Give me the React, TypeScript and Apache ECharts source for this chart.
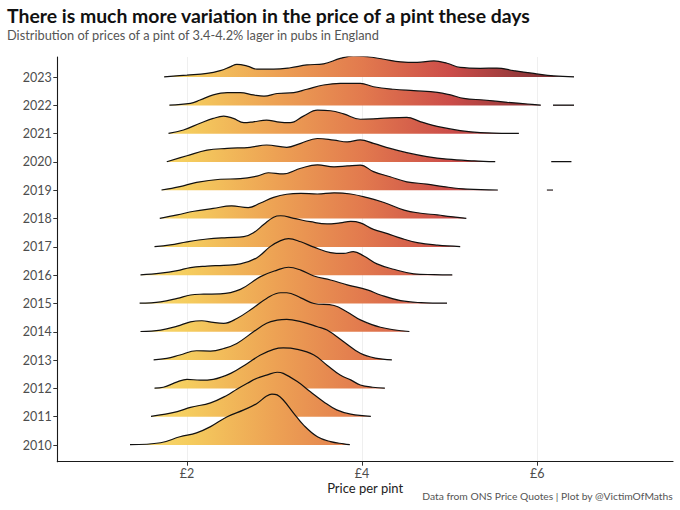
import React, { useEffect, useRef } from "react";
import * as echarts from "echarts";

const years = ["2010","2011","2012","2013","2014","2015","2016","2017","2018","2019","2020","2021","2022","2023"];
const xTicks = [2, 4, 6];

// [price £, ridge height in row units]
const r2010 = [[1.35,0.01],[1.70,0.08],[1.92,0.29],[2.11,0.43],[2.27,0.65],[2.46,1.0],[2.65,1.24],[2.80,1.47],[2.91,1.73],[2.97,1.80],[3.03,1.77],[3.10,1.59],[3.22,1.12],[3.33,0.71],[3.49,0.29],[3.64,0.12],[3.79,0.04],[3.86,0.01]];
const r2011 = [[1.59,0.01],[1.89,0.18],[2.04,0.33],[2.27,0.49],[2.46,0.76],[2.57,0.97],[2.69,1.18],[2.80,1.36],[2.91,1.47],[3.03,1.57],[3.10,1.53],[3.26,1.24],[3.41,0.88],[3.56,0.53],[3.71,0.24],[3.87,0.09],[4.10,0.01]];
const r2012 = [[1.63,0.01],[1.73,0.04],[1.89,0.23],[2.0,0.32],[2.15,0.29],[2.30,0.32],[2.50,0.53],[2.69,0.88],[2.84,1.18],[2.99,1.38],[3.10,1.43],[3.26,1.38],[3.45,1.18],[3.60,0.82],[3.75,0.47],[3.87,0.30],[3.98,0.12],[4.12,0.04],[4.26,0.01]];
const r2013 = [[1.62,0.01],[1.77,0.06],[1.92,0.18],[2.11,0.33],[2.27,0.32],[2.42,0.41],[2.57,0.59],[2.76,1.0],[2.91,1.30],[3.03,1.41],[3.14,1.44],[3.30,1.36],[3.49,1.18],[3.60,1.06],[3.79,0.65],[3.98,0.24],[4.15,0.07],[4.34,0.01]];
const r2014 = [[1.47,0.01],[1.70,0.06],[1.89,0.20],[2.04,0.35],[2.17,0.39],[2.30,0.33],[2.42,0.30],[2.57,0.47],[2.76,0.85],[2.91,1.18],[3.07,1.38],[3.14,1.38],[3.30,1.20],[3.45,1.0],[3.68,0.93],[3.83,0.70],[3.98,0.42],[4.21,0.16],[4.54,0.01]];
const r2015 = [[1.46,0.01],[1.70,0.06],[1.89,0.18],[2.04,0.30],[2.19,0.33],[2.38,0.34],[2.61,0.50],[2.84,0.95],[3.03,1.18],[3.16,1.28],[3.30,1.18],[3.45,0.97],[3.64,0.83],[3.83,0.66],[4.06,0.48],[4.21,0.30],[4.44,0.10],[4.67,0.03],[4.97,0.01]];
const r2016 = [[1.47,0.01],[1.70,0.07],[1.89,0.16],[2.04,0.27],[2.23,0.32],[2.42,0.35],[2.61,0.40],[2.80,0.62],[2.95,1.01],[3.07,1.22],[3.16,1.29],[3.30,1.18],[3.45,0.99],[3.64,0.80],[3.79,0.77],[3.90,0.83],[4.02,0.68],[4.17,0.40],[4.36,0.21],[4.59,0.05],[4.82,0.02],[5.03,0.01]];
const r2017 = [[1.63,0.01],[1.81,0.07],[2.0,0.18],[2.23,0.28],[2.46,0.33],[2.65,0.36],[2.76,0.50],[2.88,0.80],[2.99,1.05],[3.07,1.10],[3.22,1.01],[3.41,0.89],[3.60,0.81],[3.75,0.85],[3.87,0.90],[3.98,0.85],[4.13,0.62],[4.29,0.47],[4.44,0.31],[4.63,0.15],[4.86,0.06],[5.12,0.01]];
const r2018 = [[1.69,0.01],[1.89,0.13],[2.08,0.26],[2.30,0.36],[2.51,0.45],[2.70,0.39],[2.84,0.55],[2.99,0.75],[3.14,0.86],[3.30,0.89],[3.49,0.87],[3.68,0.91],[3.87,0.87],[4.06,0.74],[4.25,0.57],[4.48,0.30],[4.67,0.19],[4.86,0.13],[5.01,0.07],[5.19,0.01]];
const r2019 = [[1.71,0.01],[1.92,0.13],[2.11,0.28],[2.38,0.39],[2.61,0.41],[2.80,0.50],[2.93,0.62],[3.10,0.58],[3.30,0.78],[3.49,0.90],[3.68,0.83],[3.83,0.86],[3.98,0.89],[4.13,0.66],[4.32,0.48],[4.51,0.30],[4.74,0.22],[4.93,0.13],[5.20,0.04],[5.55,0.01]];
const r2020 = [[1.77,0.01],[2.0,0.22],[2.23,0.42],[2.46,0.48],[2.72,0.52],[2.91,0.60],[3.14,0.52],[3.30,0.66],[3.49,0.83],[3.68,0.77],[3.83,0.71],[3.98,0.78],[4.13,0.66],[4.32,0.48],[4.51,0.33],[4.74,0.19],[4.97,0.10],[5.28,0.04],[5.52,0.01]];
const r2021 = [[1.79,0.01],[1.96,0.13],[2.15,0.37],[2.30,0.54],[2.42,0.62],[2.53,0.54],[2.65,0.39],[2.76,0.42],[2.91,0.48],[3.03,0.42],[3.18,0.39],[3.33,0.62],[3.49,0.83],[3.64,0.81],[3.79,0.70],[3.98,0.51],[4.21,0.54],[4.51,0.58],[4.67,0.42],[4.90,0.23],[5.12,0.11],[5.35,0.04],[5.79,0.01]];
const r2022 = [[1.80,0.01],[2.04,0.07],[2.15,0.19],[2.30,0.37],[2.46,0.45],[2.61,0.45],[2.76,0.37],[2.88,0.33],[3.03,0.42],[3.22,0.45],[3.37,0.57],[3.56,0.72],[3.75,0.78],[3.98,0.78],[4.13,0.66],[4.36,0.57],[4.59,0.52],[4.86,0.46],[5.01,0.37],[5.16,0.25],[5.39,0.19],[5.66,0.11],[5.89,0.05],[6.04,0.01]];
const r2023 = [[1.74,0.01],[2.0,0.07],[2.23,0.13],[2.38,0.23],[2.50,0.37],[2.57,0.45],[2.69,0.39],[2.80,0.28],[2.99,0.28],[3.18,0.33],[3.37,0.43],[3.56,0.47],[3.75,0.66],[3.90,0.75],[4.06,0.72],[4.25,0.63],[4.44,0.54],[4.63,0.52],[4.82,0.57],[4.97,0.49],[5.12,0.34],[5.35,0.31],[5.54,0.32],[5.73,0.23],[5.96,0.13],[6.19,0.04],[6.42,0.01]];

// isolated outlier stretches (drawn apart from the main ridge)
const tail2019 = [[6.11,0.01],[6.18,0.01]];
const tail2020 = [[6.16,0.01],[6.39,0.01]];
const tail2022 = [[6.18,0.01],[6.42,0.01]];

const ridges = [r2010,r2011,r2012,r2013,r2014,r2015,r2016,r2017,r2018,r2019,r2020,r2021,r2022,r2023];
const tails: Record<string, number[][]> = { "2019": tail2019, "2020": tail2020, "2022": tail2022 };

// fill colour by price, from £1 to £7
const fillPrices = [1, 2, 3, 4, 5, 6, 7];
const fillStops = ["#FBE381","#F5CD5E","#EDA254","#E27A4E","#CC4D49","#8A3437","#4E2222"];

const FONT = "Lato, 'Noto Sans', sans-serif";
const GRID = { left: 57.3, right: 7, top: 57, bottom: 48.3 };
const X_MIN = 0.52;
const X_MAX = 7.55;
const W = 680;

export default function App() {
  const ref = useRef<HTMLDivElement>(null);
  useEffect(() => {
    if (!ref.current) return;
    const chart = echarts.init(ref.current, null, { renderer: "svg" });

    const plotW = W - GRID.left - GRID.right;
    const toPx = (v: number) => GRID.left + ((v - X_MIN) / (X_MAX - X_MIN)) * plotW;
    const p0 = toPx(fillPrices[0]);
    const p1 = toPx(fillPrices[fillPrices.length - 1]);
    const grad = new echarts.graphic.LinearGradient(
      p0, 0, p1, 0,
      fillStops.map((c, k) => ({ offset: (fillPrices[k] - fillPrices[0]) / (fillPrices[fillPrices.length - 1] - fillPrices[0]), color: c })),
      true
    );

    const series: any[] = [];
    for (let i = years.length - 1; i >= 0; i--) {
      const yr = years[i];
      let pts: any[] = ridges[i].map((p) => [p[0], i + p[1]]);
      const t = tails[yr];
      if (t) {
        const last = ridges[i][ridges[i].length - 1][0];
        pts = pts.concat([[(last + t[0][0]) / 2, null]], t.map((p) => [p[0], i + p[1]]));
      }
      series.push({
        type: "line",
        name: yr,
        data: pts,
        smooth: 0.4,
        showSymbol: false,
        connectNulls: false,
        lineStyle: { color: "#111", width: 1.2 },
        itemStyle: { color: "#E27A4E" },
        areaStyle: { origin: i, opacity: 1, color: grad },
        silent: true,
      });
    }

    chart.setOption({
      animation: false,
      backgroundColor: "#fff",
      textStyle: { fontFamily: FONT },
      grid: GRID,
      xAxis: {
        type: "value",
        min: X_MIN,
        max: X_MAX,
        name: "Price per pint",
        nameLocation: "middle",
        nameGap: 20,
        nameMoveOverlap: false,
        nameTextStyle: { color: "#222", fontSize: 13, fontFamily: FONT },
        axisLine: { show: true, onZero: false, lineStyle: { color: "#1a1a1a", width: 1.1 } },
        axisTick: { show: true, customValues: xTicks, length: 4, lineStyle: { color: "#333" } },
        axisLabel: {
          customValues: xTicks,
          formatter: (v: number) => "£" + v,
          color: "#4d4d4d",
          fontSize: 12.5,
          margin: 5,
          fontFamily: FONT,
        },
        splitLine: { show: true, lineStyle: { color: "#ebebeb", width: 0.8 } },
      },
      yAxis: {
        type: "value",
        min: -0.59,
        max: 13.71,
        axisLine: { show: true, onZero: false, lineStyle: { color: "#1a1a1a", width: 1.1 } },
        axisTick: { show: true, customValues: years.map((_, i) => i), length: 4, lineStyle: { color: "#333" } },
        axisLabel: {
          customValues: years.map((_, i) => i),
          formatter: (v: number) => years[Math.round(v)] ?? "",
          color: "#4d4d4d",
          fontSize: 12.5,
          margin: 5.5,
          fontFamily: FONT,
        },
        splitLine: { show: false },
      },
      graphic: [
        {
          type: "text",
          left: 7,
          top: 5.5,
          style: {
            text: "There is much more variation in the price of a pint these days",
            font: `bold 19.4px ${FONT}`,
            fill: "#111",
          },
        },
        {
          type: "text",
          left: 7,
          top: 28,
          style: {
            text: "Distribution of prices of a pint of 3.4-4.2% lager in pubs in England",
            font: `12.8px ${FONT}`,
            fill: "#555",
          },
        },
        {
          type: "text",
          right: 7,
          top: 491,
          style: {
            text: "Data from ONS Price Quotes | Plot by @VictimOfMaths",
            font: `10.3px ${FONT}`,
            fill: "#555",
          },
        },
      ],
      series,
    });
    return () => chart.dispose();
  }, []);
  return <div ref={ref} style={{ position: "fixed", left: 0, top: 0, width: W, height: 510 }} />;
}
